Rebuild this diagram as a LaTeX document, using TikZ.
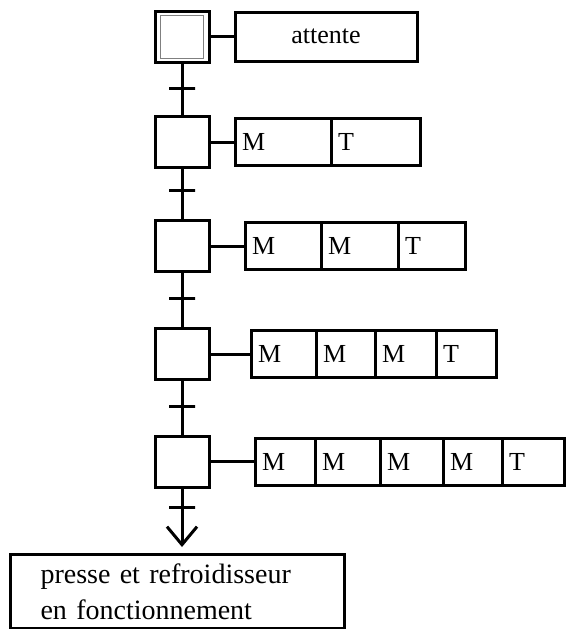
\documentclass[tikz,border=0pt]{standalone}
\usepackage{fontspec}
\setmainfont{Liberation Serif}
\usetikzlibrary{calc,arrows.meta}

\tikzset{
	etape/.style={draw, line width=3pt, minimum width=54pt, minimum height=51pt, inner sep=0pt, outer sep=0pt},
	trans/.style={draw, line width=3pt, minimum width=26pt, minimum height=0pt, inner sep=0pt, outer sep=0pt},
	action/.style={draw, line width=3pt, anchor=west, minimum height=47pt, inner xsep=7pt, outer sep=0pt, align=left, text width=#1, font=\fontsize{26}{30}\selectfont},
}

\begin{document}
\begin{tikzpicture}[x=1pt, y=-1pt, line width=3pt]
		\useasboundingbox (0,0) rectangle (566,629);
		\node[etape] (s1) at (182,36.5) {};
		\node[draw=gray, line width=1pt, minimum size=43pt, inner sep=0pt] (s1i) at (s1) {};
		\node[etape] (s2) at (182,142) {};
		\node[etape] (s3) at (182,246) {};
		\node[etape] (s4) at (182,354) {};
		\node[etape] (s5) at (182,461.5) {};
		\node[trans] (t1) at (182,88) {};
		\node[trans] (t2) at (182,190) {};
		\node[trans] (t3) at (182,298) {};
		\node[trans] (t4) at (182,406) {};
		\node[trans] (t5) at (182,507) {};
		\node[action=168pt, align=center, minimum height=49pt] (a1) at (235,36.5) {attente};
		\node[action=82pt] (c21) at (235,142) {M};
		\node[action=75pt] (c22) at (331,142) {T};
		\node[action=62pt] (c31) at (245,246) {M};
		\node[action=63pt] (c32) at (321,246) {M};
		\node[action=53pt] (c33) at (398,246) {T};
		\node[action=51pt] (c41) at (251,354) {M};
		\node[action=45pt] (c42) at (316,354) {M};
		\node[action=47pt] (c43) at (375,354) {M};
		\node[action=46pt] (c44) at (436,354) {T};
		\node[action=46pt] (c51) at (255,461.5) {M};
		\node[action=51pt] (c52) at (315,461.5) {M};
		\node[action=49pt] (c53) at (380,461.5) {M};
		\node[action=45pt] (c54) at (443,461.5) {M};
		\node[action=48pt] (c55) at (502,461.5) {T};
		\node[draw, anchor=north west, minimum width=334pt, minimum height=74pt, text width=274pt, inner xsep=30pt, align=left, font=\fontsize{28}{36}\selectfont] (fin) at (9,553) {presse et refroidisseur\\en fonctionnement};
		\draw (s1) -- (t1) -- (s2) -- (t2) -- (s3) -- (t3) -- (s4) -- (t4) -- (s5) -- (t5);
		\draw [-{Straight Barb[length=18pt,width=30pt]}, shorten >=6pt] (t5) -- (t5 |- fin.north);
		\draw (s1) -- (a1);
		\draw (s2) -- (c21);
		\draw (s3) -- (c31);
		\draw (s4) -- (c41);
		\draw (s5) -- (c51);
		\end{tikzpicture}
\end{document}
